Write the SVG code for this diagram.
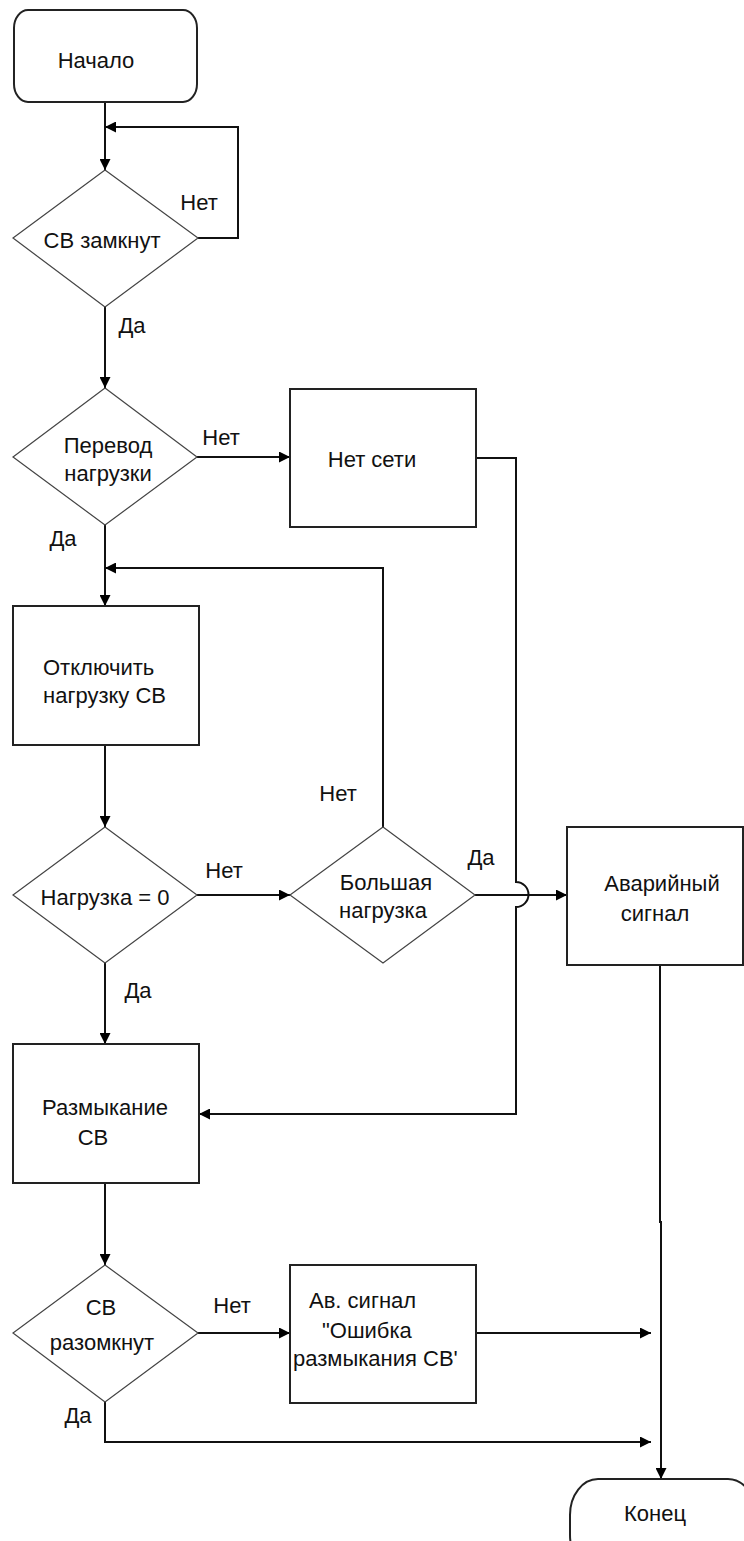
<svg xmlns="http://www.w3.org/2000/svg" width="744" height="1541" viewBox="0 0 744 1541">
<style>
.bg{fill:#fff}
.box{fill:#fff;stroke:#222;stroke-width:2}
.dia{fill:#fff;stroke:#444;stroke-width:1.2}
.ln{fill:none;stroke:#111;stroke-width:2}
.t{font-family:"Liberation Sans",Arial,sans-serif;font-size:22px;fill:#111}
.m{text-anchor:middle}
</style>
<defs>
<marker id="arr" viewBox="0 0 10 10" refX="10" refY="5" markerWidth="11" markerHeight="11" orient="auto" markerUnits="userSpaceOnUse">
<path d="M0,0 L10,5 L0,10 z" fill="#000"/>
</marker>
</defs>
<rect class="bg" x="0" y="0" width="744" height="1541"/>

<g id="connectors">
<path class="ln" d="M105,102 V170" marker-end="url(#arr)"/>
<path class="ln" d="M198,238 H238 V127 H105" marker-end="url(#arr)"/>
<path class="ln" d="M105,307 V388" marker-end="url(#arr)"/>
<path class="ln" d="M197,457 H290" marker-end="url(#arr)"/>
<path class="ln" d="M476,458 H516 V882 A12.5,12.5 0 0 1 516,907 V1114 H199" marker-end="url(#arr)"/>
<path class="ln" d="M105,525 V606" marker-end="url(#arr)"/>
<path class="ln" d="M383,827 V568 H105" marker-end="url(#arr)"/>
<path class="ln" d="M105,745 V827" marker-end="url(#arr)"/>
<path class="ln" d="M197,895 H290" marker-end="url(#arr)"/>
<path class="ln" d="M475,895 H567" marker-end="url(#arr)"/>
<path class="ln" d="M660,965 V1222 H661 V1479" marker-end="url(#arr)"/>
<path class="ln" d="M105,963 V1044" marker-end="url(#arr)"/>
<path class="ln" d="M105,1183 V1265" marker-end="url(#arr)"/>
<path class="ln" d="M198,1333 H290" marker-end="url(#arr)"/>
<path class="ln" d="M476,1333 H651" marker-end="url(#arr)"/>
<path class="ln" d="M105,1402 V1442 H651" marker-end="url(#arr)"/>
</g>

<g id="labels">
<text class="t m" x="199" y="210">Нет</text>
<text class="t m" x="132" y="333">Да</text>
<text class="t m" x="221" y="445">Нет</text>
<text class="t m" x="63" y="546">Да</text>
<text class="t m" x="338" y="801">Нет</text>
<text class="t m" x="224" y="878">Нет</text>
<text class="t m" x="481" y="865">Да</text>
<text class="t m" x="138" y="998">Да</text>
<text class="t m" x="232" y="1313">Нет</text>
<text class="t m" x="78" y="1423">Да</text>
</g>

<g id="start">
<rect class="box" x="14" y="10" width="183" height="92" rx="14" ry="18"/>
<text class="t m" x="96" y="68">Начало</text>
</g>

<g id="d-closed">
<polygon class="dia" points="105,170 198,238 105,307 13,238"/>
<text class="t m" x="102" y="248">СВ замкнут</text>
</g>

<g id="d-transfer">
<polygon class="dia" points="105,388 197,457 105,525 13,457"/>
<text class="t m" x="108" y="453">Перевод</text>
<text class="t m" x="108" y="481">нагрузки</text>
</g>

<g id="no-grid">
<rect class="box" x="290" y="389" width="186" height="138"/>
<text class="t m" x="372" y="467">Нет сети</text>
</g>

<g id="disconnect">
<rect class="box" x="13" y="606" width="186" height="139"/>
<text class="t" x="43" y="675">Отключить</text>
<text class="t" x="43" y="703">нагрузку СВ</text>
</g>

<g id="d-zero">
<polygon class="dia" points="105,827 197,895 105,963 13,895"/>
<text class="t m" x="105" y="905">Нагрузка = 0</text>
</g>

<g id="d-big">
<polygon class="dia" points="383,827 475,895 383,963 290,895"/>
<text class="t m" x="386" y="890">Большая</text>
<text class="t m" x="383" y="918">нагрузка</text>
</g>

<g id="alarm">
<rect class="box" x="567" y="827" width="176" height="138"/>
<text class="t m" x="662" y="891">Аварийный</text>
<text class="t m" x="655" y="921">сигнал</text>
</g>

<g id="open">
<rect class="box" x="13" y="1044" width="186" height="139"/>
<text class="t m" x="105" y="1115">Размыкание</text>
<text class="t m" x="93" y="1145">СВ</text>
</g>

<g id="d-opened">
<polygon class="dia" points="105,1265 198,1333 105,1402 13,1333"/>
<text class="t m" x="101" y="1315">СВ</text>
<text class="t m" x="102" y="1350">разомкнут</text>
</g>

<g id="err-alarm">
<rect class="box" x="290" y="1265" width="186" height="138"/>
<text class="t" x="309" y="1308">Ав. сигнал</text>
<text class="t" x="322" y="1338">"Ошибка</text>
<text class="t" x="293" y="1366">размыкания СВ'</text>
</g>

<g id="end">
<rect class="box" x="570" y="1479" width="186" height="92" rx="28" ry="36"/>
<text class="t m" x="655" y="1521">Конец</text>
</g>
</svg>
